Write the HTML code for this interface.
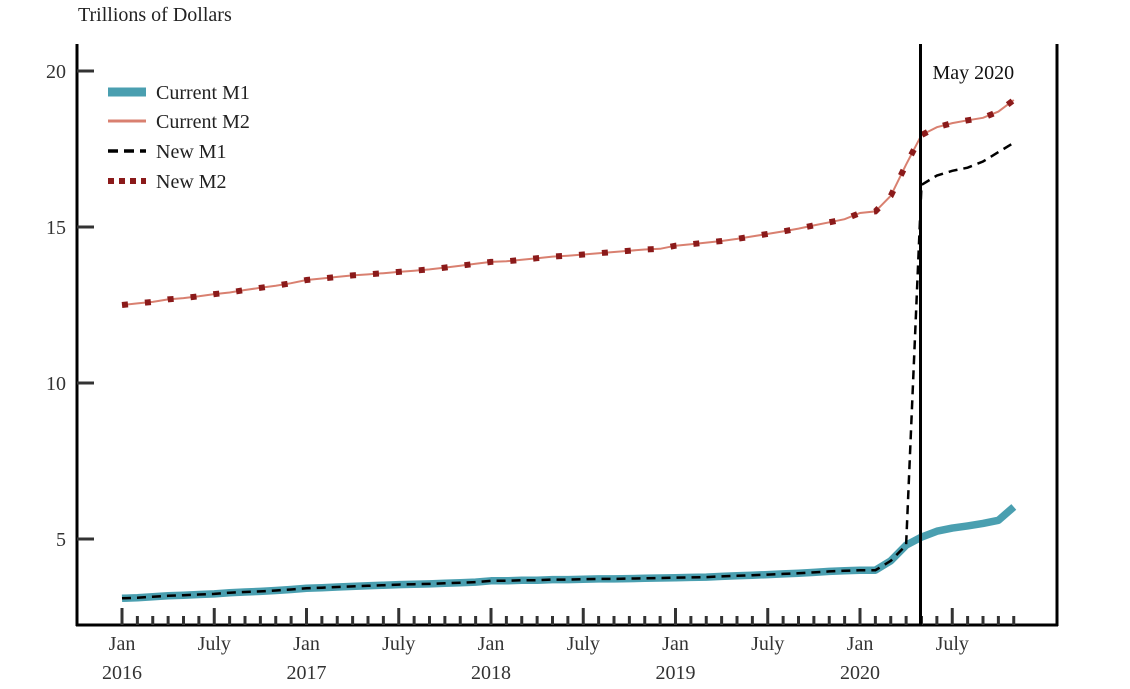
<!DOCTYPE html>
<html><head><meta charset="utf-8"><style>
body{margin:0;background:#fff;}
svg{display:block;font-family:"Liberation Serif",serif;}
</style></head><body>
<svg id="chart" width="1130" height="689">
<text x="78" y="21" font-size="20" fill="#222">Trillions of Dollars</text>
<g id="grid"></g>
<g id="series"></g>
<g id="legend">
<line x1="108" y1="92" x2="146" y2="92" stroke="#4a9fb0" stroke-width="9"/>
<text x="156" y="99" font-size="20" fill="#222">Current M1</text>
<line x1="108" y1="121" x2="146" y2="121" stroke="#d98070" stroke-width="3"/>
<text x="156" y="128" font-size="20" fill="#222">Current M2</text>
<line x1="108" y1="151" x2="146" y2="151" stroke="#000" stroke-width="3.5" stroke-dasharray="10 6"/>
<text x="156" y="158" font-size="20" fill="#222">New M1</text>
<line x1="108" y1="181" x2="146" y2="181" stroke="#8b1a1a" stroke-width="6" stroke-dasharray="6 5"/>
<text x="156" y="188" font-size="20" fill="#222">New M2</text>
</g>
</svg>
<script>
const yTicks=[5,10,15,20];
const monthLabels=["Jan","July"];
const years=["2016","2017","2018","2019","2020"];
const currentM1=[3.1,3.12,3.15,3.18,3.2,3.22,3.24,3.28,3.3,3.32,3.35,3.38,
3.42,3.44,3.46,3.48,3.5,3.52,3.54,3.55,3.56,3.58,3.6,3.62,
3.66,3.66,3.68,3.68,3.7,3.7,3.71,3.72,3.72,3.73,3.74,3.75,
3.76,3.77,3.78,3.8,3.82,3.84,3.86,3.88,3.9,3.93,3.96,3.98,
4.0,4.0,4.3,4.8,5.06,5.25,5.35,5.42,5.5,5.6,6.03];
const currentM2=[12.5,12.55,12.6,12.68,12.72,12.78,12.85,12.9,12.98,13.05,13.12,13.2,
13.3,13.35,13.4,13.45,13.48,13.52,13.56,13.6,13.64,13.7,13.76,13.82,
13.88,13.9,13.95,14.0,14.05,14.08,14.12,14.16,14.2,14.24,14.28,14.3,
14.4,14.45,14.5,14.55,14.62,14.7,14.78,14.86,14.95,15.05,15.15,15.25,
15.45,15.5,16.0,17.0,17.95,18.2,18.33,18.42,18.5,18.7,19.07];
const newM1=currentM1.slice(0,52).concat([16.35,16.65,16.8,16.9,17.1,17.4,17.7]);
const newM2=currentM2.slice();
const breakIndex=52;

const NS="http://www.w3.org/2000/svg";
const x=i=>122+i*15.375;
const y=v=>695-v*31.2;
function mk(parent,tag,attrs){const e=document.createElementNS(NS,tag);for(const k in attrs)e.setAttribute(k,attrs[k]);parent.appendChild(e);return e;}
const g=document.getElementById('grid'), s=document.getElementById('series');

let e;
e=mk(g,'line',{x1:77,y1:44,x2:77,y2:626,stroke:'#000','stroke-width':3});


e=mk(g,'line',{x1:1057,y1:44,x2:1057,y2:626,stroke:'#000','stroke-width':3});


e=mk(g,'line',{x1:76,y1:625,x2:1058,y2:625,stroke:'#000','stroke-width':3});


yTicks.forEach(v=>{
  e=mk(g,'line',{x1:77,y1:y(v),x2:94,y2:y(v),stroke:'#333','stroke-width':3});
  
  
  e=mk(g,'text',{x:66,y:y(v)+7,'text-anchor':'end','font-size':20,fill:'#333'});
  e.textContent=v;
  
  
});
for(let i=0;i<currentM1.length;i++){
  const major=(i%6===0);
  e=mk(g,'line',{x1:x(i),y1:major?608:616,x2:x(i),y2:625,stroke:'#333','stroke-width':3});
  
  
  if(major){
    e=mk(g,'text',{x:x(i),y:650,'text-anchor':'middle','font-size':20,fill:'#333'});
    e.textContent=monthLabels[(i/6)%2];
    
    
    if(i%12===0){
      e=mk(g,'text',{x:x(i),y:679,'text-anchor':'middle','font-size':20,fill:'#333'});
      e.textContent=years[i/12];
      
      
    }
  }
}
const pts=a=>a.map((v,i)=>x(i).toFixed(1)+','+y(v).toFixed(1)).join(' ');
e=mk(s,'polyline',{points:pts(currentM1),fill:'none',stroke:'#4a9fb0','stroke-width':7.5,'stroke-linejoin':'round'});


e=mk(s,'polyline',{points:pts(newM1),fill:'none',stroke:'#000','stroke-width':2.5,'stroke-dasharray':'9 6'});


e=mk(s,'polyline',{points:pts(currentM2),fill:'none',stroke:'#d98070','stroke-width':2});


e=mk(s,'polyline',{points:pts(newM2),fill:'none',stroke:'#8b1a1a','stroke-width':6,'stroke-dasharray':'6 17'});


e=mk(s,'line',{x1:x(breakIndex)-1,y1:44,x2:x(breakIndex)-1,y2:625,stroke:'#000','stroke-width':3});


e=mk(s,'text',{x:x(breakIndex)+11,y:79,'font-size':20,fill:'#111'});
e.textContent='May 2020';


</script>
</body></html>
